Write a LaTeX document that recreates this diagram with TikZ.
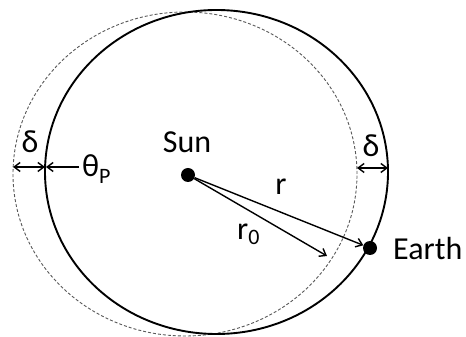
\documentclass[tikz,border=0pt]{standalone}
\usepackage{fontspec}
\setmainfont{Carlito}
\usetikzlibrary{arrows.meta}
\begin{document}
\begin{tikzpicture}[x=1pt,y=1pt,
  orbit/.style={line width=1.9pt,black},
  ref/.style={line width=0.9pt,gray!70!black,dash pattern=on 3pt off 2pt},
  body/.style={circle,fill=black,inner sep=0pt,minimum size=14pt},
  arr/.style={line width=1.4pt,-{Straight Barb[length=6pt,width=9pt,line width=1.4pt]}},
  darr/.style={line width=1.4pt,{Straight Barb[length=6pt,width=9pt,line width=1.4pt]}-{Straight Barb[length=6pt,width=9pt,line width=1.4pt]}},
  lbl/.style={inner sep=0pt,anchor=base,font=\fontsize{32}{32}\selectfont}]
\useasboundingbox (0,0) rectangle (466,337);
\fill[white] (0,0) rectangle (466,337);
% orbits
\draw[ref] (185,163) ellipse [x radius=172, y radius=162];
\draw[orbit] (216.5,165) ellipse [x radius=171.5, y radius=162];
% bodies
\node[body] (sun) at (188,162) {};
\node[body] (earth) at (370,89) {};
\coordinate (r0tip) at (327,81);
% radii
\draw[arr] (sun) -- (earth);
\draw[arr] (sun) -- (r0tip);
% delta arrows
\coordinate (dl1) at (13,170);
\coordinate (dl2) at (45,170);
\coordinate (tp1) at (79,170);
\coordinate (tp2) at (46,170);
\coordinate (dr1) at (357,169);
\coordinate (dr2) at (388,169);
\draw[darr] (dl1) -- (dl2);
\draw[arr] (tp1) -- (tp2);
\draw[darr] (dr1) -- (dr2);
% labels
\node[lbl] (sunlbl) at (187,184) {Sun};
\node[lbl,anchor=base west] (earthlbl) at (393,77) {Earth};
\node[lbl] (dleft) at (30,184) {δ};
\node[lbl] (dright) at (371,180) {δ};
\node[lbl,anchor=base west] (theta) at (82,160) {θ\raisebox{-7pt}{\fontsize{22}{22}\selectfont P}};
\node[lbl] (rlbl) at (281,142) {r};
\node[lbl,anchor=base west] (r0lbl) at (237,97) {r\raisebox{-5pt}{\fontsize{22}{22}\selectfont 0}};
\end{tikzpicture}
\end{document}
